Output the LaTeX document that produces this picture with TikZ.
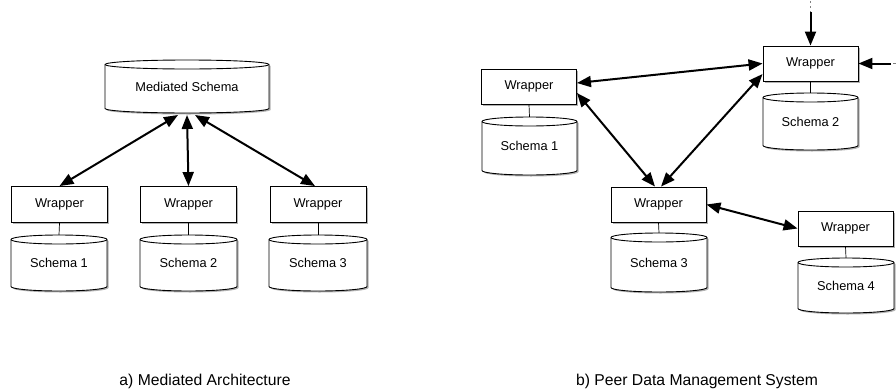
\documentclass[tikz,border=0pt]{standalone}
\usepackage{fontspec}
\setmainfont{Liberation Sans}
\usetikzlibrary{arrows.meta,shadows}
\tikzset{
  shade3/.style={drop shadow={shadow xshift=1.5pt, shadow yshift=-1.5pt, opacity=0.3, fill=black}},
  wrap/.style={draw=black, line width=0.9pt, fill=white, minimum width=96pt, minimum height=36pt,
    inner sep=0pt, font=\fontsize{12.8}{15}\selectfont, shade3},
  cylshape/.style={draw=black, line width=0.9pt, fill=white, shade3},
  cyltext/.style={font=\fontsize{12.8}{15}\selectfont, inner sep=0pt},
  link/.style={line width=0.7pt},
  biarrow/.style={line width=2pt, {Triangle[length=14pt,width=11pt]}-{Triangle[length=14pt,width=11pt]}},
  onearrow/.style={line width=2pt, -{Triangle[length=14pt,width=11pt]}},
  caption/.style={font=\fontsize{15.7}{18}\selectfont, anchor=base, inner sep=0pt}
}
\newcommand\dbcyl[6]{%
  \pgfmathsetmacro\cylrx{(#4-#2)/2}%
  \pgfmathsetmacro\cylcx{(#4+#2)/2}%
  \pgfmathsetmacro\cylya{#3+4.5}%
  \pgfmathsetmacro\cylyb{#5-4.5}%
  \path[cylshape] (#2,\cylya) -- (#2,\cylyb)
     arc[start angle=180,end angle=360,x radius=\cylrx pt,y radius=4.5pt]
     -- (#4,\cylya)
     arc[start angle=0,end angle=180,x radius=\cylrx pt,y radius=4.5pt] -- cycle;
  \draw[line width=0.9pt] (#4,\cylya) arc[start angle=0,end angle=-180,x radius=\cylrx pt,y radius=4.5pt];
  \coordinate (#1top) at (\cylcx,#3);
  \node[cyltext] (#1) at (\cylcx,{(#3+#5)/2}) {#6};
}
\begin{document}
\begin{tikzpicture}[x=1pt,y=-1pt]
\useasboundingbox (0,0) rectangle (896,391);

% ---------- a) Mediated Architecture ----------
\dbcyl{med}{105}{60}{269}{113}{Mediated Schema}
\coordinate (medbot) at (187,115);

\node[wrap] (w1) at (59.5,204.5) {Wrapper};
\node[wrap] (w2) at (188.5,204.5) {Wrapper};
\node[wrap] (w3) at (318,204.5) {Wrapper};

\draw[link] (w1.south) -- (59,235);
\draw[link] (w2.south) -- (188.5,235);
\draw[link] (w3.south) -- (318,235);

\dbcyl{s1}{11}{235}{107}{291}{Schema 1}
\dbcyl{s2}{140}{235}{237}{291}{Schema 2}
\dbcyl{s3}{269}{235}{367}{291}{Schema 3}

\draw[biarrow] ([xshift=-9pt]medbot) -- (w1.north);
\draw[biarrow] (medbot) -- (w2.north);
\draw[biarrow] ([xshift=8pt]medbot) -- ([xshift=-3pt]w3.north);

\node[caption] (capa) at (205,385.5) {a) Mediated Architecture};

% ---------- b) Peer Data Management System ----------
\node[wrap, minimum width=95pt, minimum height=35pt] (pw1) at (529,86.5) {Wrapper};
\node[wrap, minimum width=95pt, minimum height=35pt] (pw2) at (810.5,63.5) {Wrapper};
\node[wrap, minimum width=95pt, minimum height=35pt] (pw3) at (658.5,204.5) {Wrapper};
\node[wrap, minimum width=95pt, minimum height=35pt] (pw4) at (845.5,228.5) {Wrapper};

\draw[link] (pw1.south) -- (529.5,117);
\draw[link] (pw2.south) -- (810.5,93);
\draw[link] (pw3.south) -- (659,233);
\draw[link] (pw4.south) -- (846,258);

\dbcyl{ps1}{482}{117}{577}{175}{Schema 1}
\dbcyl{ps2}{763}{93}{858}{150}{Schema 2}
\dbcyl{ps3}{611}{233}{707}{292}{Schema 3}
\dbcyl{ps4}{798}{258}{894}{313}{Schema 4}

\draw[biarrow] ([yshift=3.5pt]pw1.east) -- (pw2.west);
\draw[biarrow] ([yshift=-6.5pt]pw1.east) -- ([xshift=-3.5pt]pw3.north);
\draw[biarrow] ([xshift=2.5pt]pw3.north) -- ([yshift=-10.5pt]pw2.west);
\draw[biarrow] (pw3.east) -- (pw4.west);

\coordinate (topin) at (810.5,12);
\draw[gray, line width=1pt, dash pattern=on 2pt off 3pt] (810.5,1) -- (topin);
\draw[onearrow] (topin) -- (pw2.north);

\coordinate (rightin) at (891,63.5);
\draw[gray, line width=0.6pt] (893,63.5) -- (896,63.5);
\draw[onearrow] (rightin) -- (pw2.east);

\node[caption] (capb) at (697,385.5) {b) Peer Data Management System};
\end{tikzpicture}
\end{document}
